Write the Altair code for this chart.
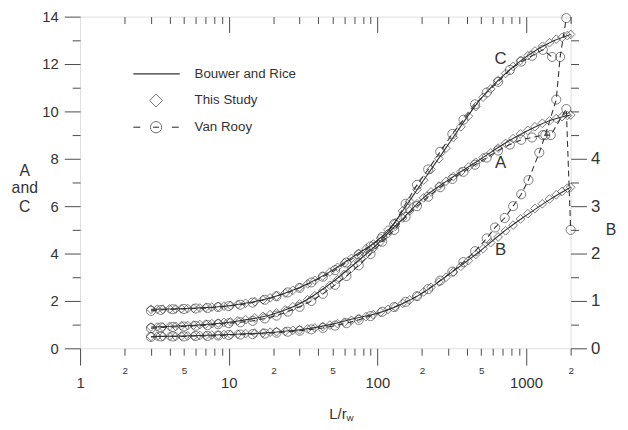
import altair as alt
import pandas as pd

# ---------------- data ----------------
# This Study (diamonds) - shared L/rw values
STUDY_X = [3, 3.3, 3.6, 4, 4.4, 4.8, 5.3, 5.8, 6.4, 7, 7.7, 8.5, 9.3, 10.3, 11.5, 13, 15, 17, 19, 21,
           24, 27, 30, 34, 38, 43, 48, 54, 60, 67, 75, 84, 94, 105, 118, 132, 148, 165, 185, 205,
           230, 260, 290, 325, 365, 410, 460, 515, 580, 650, 730, 820, 920, 1030, 1150, 1290, 1440,
           1600, 1750, 1900, 2000]
STUDY_C = [1.65, 1.65, 1.65, 1.66, 1.66, 1.67, 1.68, 1.69, 1.70, 1.72, 1.74, 1.76, 1.78, 1.81, 1.85,
           1.90, 1.97, 2.05, 2.13, 2.21, 2.33, 2.45, 2.57, 2.72, 2.87, 3.05, 3.22, 3.42, 3.60, 3.80,
           4.00, 4.20, 4.40, 4.65, 5.00, 5.30, 5.80, 6.20, 6.70, 7.10, 7.55, 8.00, 8.45, 8.90, 9.35,
           9.80, 10.20, 10.60, 10.95, 11.30, 11.60, 11.90, 12.15, 12.35, 12.55, 12.75, 12.90, 13.05,
           13.12, 13.20, 13.25]
STUDY_A = [0.90, 0.90, 0.90, 0.92, 0.93, 0.95, 0.96, 0.98, 1.00, 1.02, 1.04, 1.06, 1.09, 1.12, 1.16,
           1.21, 1.28, 1.35, 1.42, 1.50, 1.62, 1.75, 1.88, 2.05, 2.22, 2.45, 2.66, 2.90, 3.12, 3.38,
           3.65, 3.95, 4.22, 4.50, 4.85, 5.15, 5.50, 5.80, 6.10, 6.35, 6.60, 6.85, 7.05, 7.25, 7.45,
           7.65, 7.85, 8.05, 8.25, 8.45, 8.65, 8.85, 9.05, 9.20, 9.35, 9.50, 9.60, 9.70, 9.78, 9.83,
           9.85]
STUDY_B = [0.25, 0.25, 0.25, 0.25, 0.25, 0.26, 0.26, 0.26, 0.27, 0.27, 0.28, 0.28, 0.29, 0.29, 0.30,
           0.31, 0.32, 0.33, 0.34, 0.35, 0.36, 0.38, 0.39, 0.41, 0.43, 0.46, 0.49, 0.52, 0.55, 0.59,
           0.63, 0.67, 0.71, 0.76, 0.82, 0.88, 0.95, 1.02, 1.10, 1.19, 1.29, 1.40, 1.50, 1.61, 1.73,
           1.85, 1.98, 2.10, 2.23, 2.35, 2.48, 2.60, 2.73, 2.84, 2.95, 3.05, 3.15, 3.24, 3.31, 3.38,
           3.40]

# Bouwer and Rice (solid line)
BR_X = [3, 5, 10, 20, 30, 50, 70, 100, 120, 150, 200, 300, 500, 700, 1000, 1500, 2000]
BR_C = [1.65, 1.68, 1.8, 2.17, 2.57, 3.3, 3.9, 4.55, 5.0, 5.85, 7.0, 8.6, 10.55, 11.5, 12.3, 12.95, 13.25]
BR_A = [0.9, 0.95, 1.1, 1.45, 1.88, 2.8, 3.55, 4.4, 4.9, 5.5, 6.3, 7.1, 8.0, 8.6, 9.15, 9.65, 9.85]
BR_B = [0.25, 0.26, 0.29, 0.34, 0.39, 0.51, 0.63, 0.74, 0.82, 0.95, 1.16, 1.55, 2.07, 2.45, 2.8, 3.17, 3.4]

# Van Rooy (circles, dashed)
VR_C_X = [3, 3.5, 4.2, 5, 6, 7.2, 8.5, 10, 12, 14.5, 17.5, 21, 25, 30, 36, 43, 52, 62, 75, 90,
          108, 130, 155, 185, 220, 265, 320, 380, 455, 545, 650, 780, 930, 1100, 1300, 1500]
VR_C_Y = [1.58, 1.62, 1.65, 1.66, 1.68, 1.7, 1.74, 1.78, 1.84, 1.93, 2.05, 2.2, 2.36, 2.55, 2.78,
          3.02, 3.3, 3.62, 3.96, 4.3, 4.7, 5.25, 6.1, 6.9, 7.55, 8.3, 9.05, 9.65, 10.3, 10.8, 11.25,
          11.75, 12.1, 12.35, 12.6, 12.3]
VR_A_X = [3, 3.5, 4.2, 5, 6, 7.2, 8.5, 10, 12, 14.5, 17.5, 21, 25, 30, 36, 43, 52, 62, 75, 90,
          108, 130, 155, 185, 220, 265, 320, 380, 455, 545, 650, 780, 930, 1100, 1300, 1470, 1870, 2000]
VR_A_Y = [0.85, 0.88, 0.9, 0.92, 0.95, 0.98, 1.02, 1.06, 1.1, 1.16, 1.26, 1.38, 1.55, 1.75, 2.0,
          2.3, 2.68, 3.05, 3.5, 3.98, 4.5, 5.0, 5.55, 6.0, 6.4, 6.8, 7.15, 7.45, 7.75, 8.05, 8.35,
          8.6, 8.8, 8.9, 9.0, 9.0, 10.1, 5.0]
VR_B_X = [3, 3.5, 4.2, 5, 6, 7.2, 8.5, 10, 12, 14.5, 17.5, 21, 25, 30, 36, 43, 52, 62, 75, 90,
          108, 130, 155, 185, 220, 265, 320, 380, 455, 545, 620, 720, 820, 930, 1040, 1230, 1350,
          1600, 1700, 1870]
VR_B_Y = [0.24, 0.25, 0.25, 0.25, 0.26, 0.26, 0.27, 0.28, 0.29, 0.3, 0.31, 0.33, 0.35, 0.37, 0.4,
          0.43, 0.48, 0.53, 0.6, 0.68, 0.77, 0.87, 0.98, 1.1, 1.25, 1.43, 1.62, 1.82, 2.05, 2.32,
          2.55, 2.75, 3.0, 3.25, 3.55, 4.13, 4.5, 5.25, 6.15, 6.97]

LEFT_MAJOR = [0, 2, 4, 6, 8, 10, 12, 14]
LEFT_MINOR = [1, 3, 5, 7, 9, 11, 13]
RIGHT_MAJOR = [0, 1, 2, 3, 4]
RIGHT_MINOR = [0.5, 1.5, 2.5, 3.5, 4.5, 5, 5.5, 6, 6.5]
X_MAJOR = [1, 10, 100, 1000]
X_MINOR = [2, 3, 4, 5, 6, 7, 8, 9, 20, 30, 40, 50, 60, 70, 80, 90,
           200, 300, 400, 500, 600, 700, 800, 900, 2000]

# ---------------- tables ----------------
def frame(xs, ys, name):
    return pd.DataFrame({"x": xs, "y": ys, "series": name})

br_left = pd.concat([frame(BR_X, BR_C, "C"), frame(BR_X, BR_A, "A")])
br_right = frame(BR_X, BR_B, "B")
st_left = pd.concat([frame(STUDY_X, STUDY_C, "C"), frame(STUDY_X, STUDY_A, "A")])
st_right = frame(STUDY_X, STUDY_B, "B")
vr_left = pd.concat([frame(VR_C_X, VR_C_Y, "C"), frame(VR_A_X, VR_A_Y, "A")])
vr_right = frame(VR_B_X, VR_B_Y, "B")
dummy = pd.DataFrame({"k": [0]})

INK = "#333333"
TICK = "#4a4a4a"
FONT = "Liberation Sans"

xs = alt.Scale(type="log", domain=[1, 2000], nice=False)
ls = alt.Scale(domain=[0, 14], nice=False, zero=False)
rs = alt.Scale(domain=[0, 7], nice=False, zero=False)

def axis(**kw):
    base = dict(domain=False, grid=False, tickColor=TICK, tickWidth=1, labelColor=INK,
                labelFont=FONT, title=None, labelFlush=False, labelOverlap=False, labelBound=False)
    base.update(kw)
    return alt.Axis(**base)

ax_bottom_major = axis(orient="bottom", values=X_MAJOR, tickSize=17, labelFontSize=15,
                       labelPadding=11, format="d")
ax_bottom_minor = axis(orient="bottom", values=X_MINOR, tickSize=7, labelFontSize=10,
                       labelPadding=11,
                       labelExpr="indexof([2,20,200,2000], datum.value) >= 0 ? '2' : "
                                 "(indexof([5,50,500], datum.value) >= 0 ? '5' : '')")
ax_top_major = axis(orient="top", values=X_MAJOR[1:], tickSize=16, offset=-16, labels=False)
ax_top_minor = axis(orient="top", values=X_MINOR, tickSize=7, offset=-7, labels=False)
ax_left_major = axis(orient="left", values=LEFT_MAJOR, tickSize=16, labelFontSize=15, labelPadding=6)
ax_left_minor = axis(orient="left", values=LEFT_MINOR, tickSize=8, labels=False)
ax_right_major = axis(orient="right", values=RIGHT_MAJOR, tickSize=16, labelFontSize=17, labelPadding=4)
ax_right_minor = axis(orient="right", values=RIGHT_MINOR, tickSize=8, labels=False)

def X(ax=None):
    return alt.X("x:Q", scale=xs, axis=ax)

def YL(ax=None):
    return alt.Y("y:Q", scale=ls, axis=ax)

def YR(ax=None):
    return alt.Y("y:Q", scale=rs, axis=ax)

layers = []
# Bouwer and Rice lines
layers.append(alt.Chart(br_left).mark_line(color=INK, strokeWidth=1.1, interpolate="monotone")
              .encode(x=X(ax_bottom_major), y=YL(ax_left_major), detail="series:N"))
layers.append(alt.Chart(br_right).mark_line(color=INK, strokeWidth=1.1, interpolate="monotone")
              .encode(x=X(ax_bottom_minor), y=YR(ax_right_major)))
# Van Rooy dashed lines
layers.append(alt.Chart(vr_left).mark_line(color=INK, strokeWidth=1.1, strokeDash=[6, 4])
              .encode(x=X(ax_top_major), y=YL(ax_left_minor), detail="series:N"))
layers.append(alt.Chart(vr_right).mark_line(color=INK, strokeWidth=1.1, strokeDash=[6, 4])
              .encode(x=X(ax_top_minor), y=YR(ax_right_minor)))
# This Study diamonds
layers.append(alt.Chart(st_left).mark_point(shape="diamond", filled=False, size=78, color=INK, strokeWidth=0.9)
              .encode(x=X(), y=YL()))
layers.append(alt.Chart(st_right).mark_point(shape="diamond", filled=False, size=78, color=INK, strokeWidth=0.9)
              .encode(x=X(), y=YR()))
# Van Rooy circles
layers.append(alt.Chart(vr_left).mark_point(shape="circle", filled=False, size=85, color=INK, strokeWidth=0.9)
              .encode(x=X(), y=YL()))
layers.append(alt.Chart(vr_right).mark_point(shape="circle", filled=False, size=85, color=INK, strokeWidth=0.9)
              .encode(x=X(), y=YR()))

def text(t, px, py, size=15, align="center", baseline="middle"):
    return alt.Chart(dummy).mark_text(font=FONT, fontSize=size, color=INK, align=align,
                                      baseline=baseline, clip=False).encode(
        x=alt.value(px), y=alt.value(py), text=alt.value(t))

def rule(x1, x2, py, dash=None):
    kw = dict(color=INK, strokeWidth=1.1)
    if dash:
        kw["strokeDash"] = dash
    return alt.Chart(dummy).mark_rule(**kw).encode(x=alt.value(x1), x2=alt.value(x2), y=alt.value(py))

def sym(shape, px, py, size):
    return alt.Chart(dummy).mark_point(shape=shape, filled=False, size=size, color=INK, strokeWidth=1).encode(
        x=alt.value(px), y=alt.value(py))

# legend
layers += [
    rule(54, 101, 58),
    text("Bouwer and Rice", 116, 58, 13.5, "left"),
    sym("diamond", 77, 85, 170),
    text("This Study", 116, 85, 13.5, "left"),
    rule(54, 61, 112), rule(74, 80, 112), rule(93, 100, 112),
    sym("circle", 77, 112, 130),
    text("Van Rooy", 116, 112, 13.5, "left"),
]
# curve labels
layers += [text("C", 426, 43, 17), text("A", 426, 148, 17), text("B", 426, 236, 17)]
# axis titles
layers += [
    text("A", -56, 156, 16), text("and", -56, 174, 16), text("C", -56, 193, 16),
    text("B", 538, 216, 16),
    text("L/r", 270, 403, 15, "right"), text("w", 270, 407, 10, "left"),
]

chart = (alt.layer(*layers)
         .resolve_scale(y="independent")
         .resolve_axis(x="independent", y="independent")
         .properties(width=497, height=336,
                     autosize=alt.AutoSizeParams(type="none"),
                     padding={"left": 73, "top": 6, "right": 50, "bottom": 80})
         .configure_view(stroke="#444444", strokeWidth=1.2)
         .configure(background="white"))

chart.save("out.html", embed_options={"renderer": "svg", "actions": False})
